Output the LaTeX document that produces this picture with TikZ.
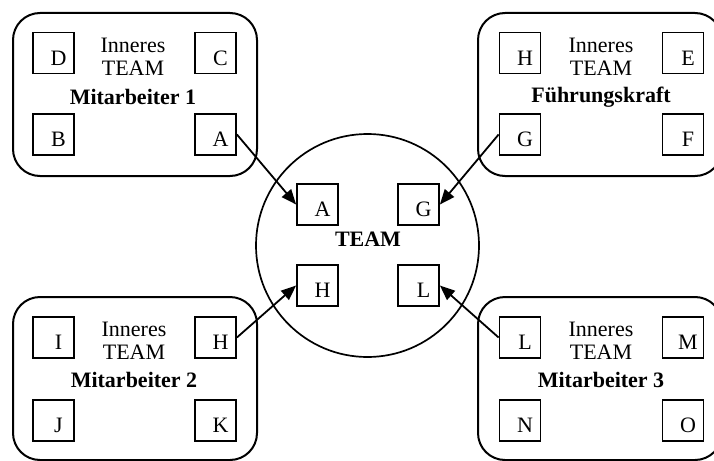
\documentclass[tikz,border=0pt]{standalone}
\usepackage{fontspec}
\setmainfont{Liberation Serif}
\usetikzlibrary{arrows.meta}

\begin{document}
\begin{tikzpicture}[x=1pt,y=-1pt,
  every node/.style={font=\fontsize{22}{23}\selectfont,align=center},
  group/.style={draw,line width=2pt,rounded corners=27pt,minimum width=244pt,minimum height=163pt,inner sep=0pt},
  member/.style={draw,line width=1.8pt,minimum size=41pt,inner sep=0pt,
    label={[xshift=5pt,yshift=-5pt]center:#1}},
  title/.style={font=\fontsize{22}{23}\selectfont\bfseries},
  team/.style={draw,line width=1.7pt,circle,minimum size=223pt,inner sep=0pt},
  to/.style={-{Triangle[length=15pt,width=12pt]},line width=1.8pt}]

    \useasboundingbox (0,0) rectangle (714,460);

    % Mitarbeiter 1
    \node[group](ma1) at (135,94.5) {};
    \node[member=D](m1d) at (53.5,53) {};
    \node[member=C](m1c) at (215.5,53) {};
    \node[member=B](m1b) at (53.5,134.5) {};
    \node[member=A](m1a) at (215.5,134.5) {};
    \node(in1) at (133,57) {Inneres\\TEAM};
    \node[title](t1) at (133,97) {Mitarbeiter 1};

    % Fuehrungskraft
    \node[group](fk) at (600,94.5) {};
    \node[member=H](fkh) at (520,53) {};
    \node[member=E](fke) at (683,53) {};
    \node[member=G](fkg) at (520,134.5) {};
    \node[member=F](fkf) at (683,134.5) {};
    \node(in2) at (601,57) {Inneres\\TEAM};
    \node[title](t2) at (601,97) {Führungskraft};

    % Mitarbeiter 2
    \node[group](ma2) at (135,378.5) {};
    \node[member=I](m2i) at (53.5,337.5) {};
    \node[member=H](m2h) at (215.5,337.5) {};
    \node[member=J](m2j) at (53.5,420.5) {};
    \node[member=K](m2k) at (215.5,420.5) {};
    \node(in3) at (134,341) {Inneres\\TEAM};
    \node[title](t3) at (134,380) {Mitarbeiter 2};

    % Mitarbeiter 3
    \node[group](ma3) at (600,378.5) {};
    \node[member=L](m3l) at (520,337.5) {};
    \node[member=M](m3m) at (683,337.5) {};
    \node[member=N](m3n) at (520,420.5) {};
    \node[member=O](m3o) at (683,420.5) {};
    \node(in4) at (601,341) {Inneres\\TEAM};
    \node[title](t4) at (601,380) {Mitarbeiter 3};

    % TEAM
    \node[team](team) at (367.5,245.5) {};
    \node[title](tt) at (368,239) {TEAM};
    \node[member=A](ta) at (317.5,204.5) {};
    \node[member=G](tg) at (418.5,204.5) {};
    \node[member=H](th) at (317.5,285.5) {};
    \node[member=L](tl) at (418.5,285.5) {};

    \draw[to](m1a.east) -- (ta.west);
    \draw[to](fkg.west) -- (tg.east);
    \draw[to](m2h.east) -- (th.west);
    \draw[to](m3l.west) -- (tl.east);
\end{tikzpicture}
\end{document}
